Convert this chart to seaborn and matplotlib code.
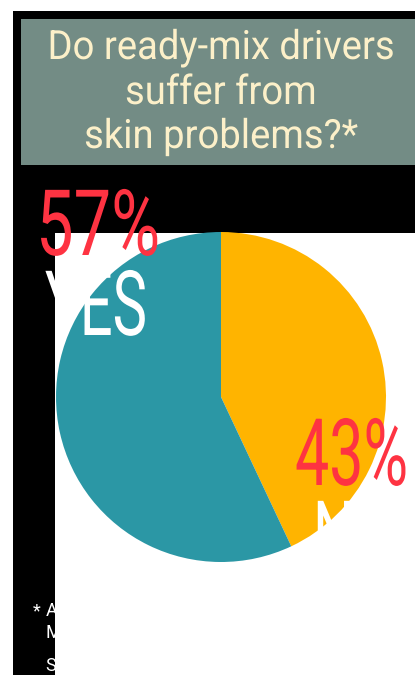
import matplotlib
matplotlib.use("Agg")
import matplotlib.pyplot as plt
import seaborn as sns
from matplotlib.patches import Rectangle
from matplotlib.patheffects import AbstractPathEffect
from matplotlib.transforms import Affine2D

# ---- data ----
categories = ["NO", "YES"]
values = [43, 57]
pct_labels = ["43%", "57%"]
title_lines = ["Do ready-mix drivers", "suffer from", "skin problems?*"]
footnote_lines = ["Among ready-mix drivers surveyed",
                  "Mixer drivers",
                  "Source: survey"]

# ---- style ----
sns.set_theme(style="white")
plt.rcParams["font.family"] = ["Roboto", "Liberation Sans", "DejaVu Sans"]

W, H = 415, 675
fig = plt.figure(figsize=(W / 100, H / 100), dpi=100, facecolor="white")


def fx(x):
    return x / W


def fy(y):
    return 1 - y / H


class Squeeze(AbstractPathEffect):
    """Condense text horizontally about a display x position."""

    def __init__(self, sx, cx):
        super().__init__()
        self.sx = sx
        self.cx = cx

    def draw_path(self, renderer, gc, tpath, affine, rgbFace=None):
        t = affine + Affine2D().translate(-self.cx, 0).scale(self.sx, 1).translate(self.cx, 0)
        renderer.draw_path(gc, tpath, t, rgbFace)


# background panels
fig.add_artist(Rectangle((fx(13), 0), fx(415) - fx(13), fy(11), transform=fig.transFigure,
                         facecolor="black", edgecolor="none", zorder=0))
fig.add_artist(Rectangle((fx(21), fy(165)), fx(415) - fx(21), fy(19) - fy(165),
                         transform=fig.transFigure, facecolor="#738c85", edgecolor="none", zorder=1))
fig.add_artist(Rectangle((fx(55), 0), fx(415) - fx(55), fy(233), transform=fig.transFigure,
                         facecolor="white", edgecolor="none", zorder=1))

# pie
ax = fig.add_axes([fx(55), 0, fx(415) - fx(55), fy(233)])
ax.set_zorder(2)
ax.patch.set_alpha(0)
pal = ["#ffb400", "#2b97a5"]
ax.pie(values, colors=pal, startangle=90, counterclock=False,
       wedgeprops=dict(linewidth=0))
r = 165.0
ax.set_aspect("auto")
ax.set_xlim(-(221 - 55) / r, (415 - 221) / r)
ax.set_ylim(-(675 - 397) / r, (397 - 233) / r)
ax.axis("off")

cream = "#fcf0c9"
red = "#fe3342"
LW = "normal"

title_objs = []
for line, base in zip(title_lines, [59, 104, 148]):
    t = fig.text(fx(221), fy(base), line, ha="center", va="baseline", fontsize=29,
                 color=cream, zorder=5, fontweight=LW)
    title_objs.append(t)

t57 = fig.text(fx(36), fy(255), pct_labels[1], ha="left", va="baseline", fontsize=66,
               color=red, zorder=6, fontweight=LW)
tyes = fig.text(fx(45), fy(335), categories[1], ha="left", va="baseline", fontsize=65,
                color="white", zorder=5, fontweight=LW)
t43 = fig.text(fx(408), fy(485), pct_labels[0], ha="right", va="baseline", fontsize=67,
               color=red, zorder=6, fontweight=LW)
tno = fig.text(fx(313), fy(565), categories[0], ha="left", va="baseline", fontsize=65,
               color="white", zorder=5, fontweight=LW)

fig.canvas.draw()
rend = fig.canvas.get_renderer()


def width(t):
    return t.get_window_extent(rend).width


s_title = 347 / width(title_objs[0])
for t in title_objs:
    t.set_path_effects([Squeeze(s_title, 221)])
t57.set_path_effects([Squeeze(124 / width(t57), 36)])
s_yes = 102 / width(tyes)
tyes.set_path_effects([Squeeze(s_yes, 45)])
t43.set_path_effects([Squeeze(113 / width(t43), 408)])
# right-align NO so its layout box stays inside the figure
w_no = width(tno) * s_yes
tno.set_x(fx(313 + w_no))
tno.set_ha("right")
tno.set_path_effects([Squeeze(s_yes, 313 + w_no)])

# footnote
fig.text(fx(33), fy(616), "*", ha="left", va="baseline", fontsize=13, color="white", zorder=5)
for line, base in zip(footnote_lines, [616, 638, 671]):
    fig.text(fx(46), fy(base), line, ha="left", va="baseline", fontsize=13,
             color="white", zorder=5)

fig.savefig("out.png", dpi=100, facecolor="white")
